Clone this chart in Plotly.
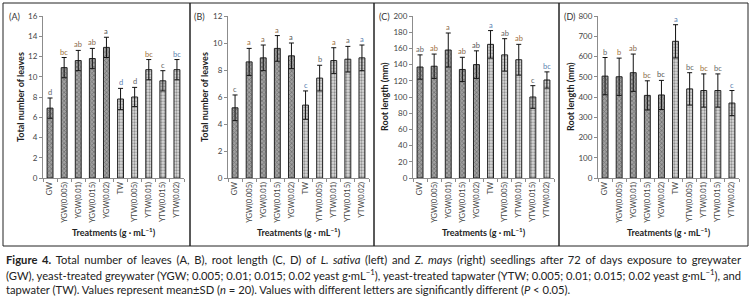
import plotly.graph_objects as go

W, H = 751, 302

categories = ["GW", "YGW(0.005)", "YGW(0.01)", "YGW(0.015)", "YGW(0.02)",
              "TW", "YTW(0.005)", "YTW(0.01)", "YTW(0.015)", "YTW(0.02)"]

leaves_sativa = [6.9, 10.9, 11.6, 11.8, 12.9, 7.8, 8.0, 10.7, 9.6, 10.7]
leaves_sativa_sd = [1.0, 1.0, 1.0, 1.0, 1.0, 1.05, 0.95, 1.0, 1.0, 1.0]
letters_a = ["d", "bc", "ab", "ab", "a", "d", "d", "bc", "c", "bc"]

leaves_mays = [5.2, 8.6, 8.9, 9.6, 9.05, 5.4, 7.4, 8.7, 8.8, 8.9]
leaves_mays_sd = [0.95, 1.0, 0.95, 0.95, 0.95, 1.05, 0.95, 0.95, 0.95, 0.95]
letters_b = ["c", "a", "a", "a", "a", "c", "b", "a", "a", "a"]

root_sativa = [137, 138, 158, 134, 140, 165, 152, 146, 100, 121]
root_sativa_sd = [15, 15, 21, 15, 17, 17, 20, 19, 14, 10]
letters_c = ["ab", "ab", "a", "ab", "ab", "a", "ab", "ab", "c", "bc"]

root_mays = [503, 500, 520, 408, 410, 675, 440, 432, 432, 370]
root_mays_sd = [92, 92, 92, 72, 72, 82, 80, 82, 82, 62]
letters_d = ["b", "b", "ab", "bc", "bc", "a", "bc", "bc", "bc", "c"]

letter_colors = ["#666666", "#a0703a", "#8a6a4a", "#8a6a4a", "#555555",
                 "#5a7fb0", "#666666", "#a0703a", "#666666", "#5a7fb0"]

panels = [
    dict(lab="(A)", vals=leaves_sativa, sd=leaves_sativa_sd, let=letters_a,
         rng=[0, 16], dt=2, ytitle="Total number of leaves", x0=43, tx=22),
    dict(lab="(B)", vals=leaves_mays, sd=leaves_mays_sd, let=letters_b,
         rng=[0, 12], dt=2, ytitle="Total number of leaves", x0=228, tx=23),
    dict(lab="(C)", vals=root_sativa, sd=root_sativa_sd, let=letters_c,
         rng=[0, 200], dt=20, ytitle="Root length (mm)", x0=413, tx=28),
    dict(lab="(D)", vals=root_mays, sd=root_mays_sd, let=letters_d,
         rng=[0, 800], dt=100, ytitle="Root length (mm)", x0=598, tx=27),
]

PW = 141
ytop, ybot = 16, 178
ydom = [1 - ybot / H, 1 - ytop / H]

dark = ["#a0a0a0"] * 5 + ["#dcdcdc"] * 5
fg = ["#3a3a3a"] * 5 + ["#a8a8a8"] * 5
shapes_p = ["x"] * 5 + ["."] * 5

fig = go.Figure()
annotations = []
shapes = []
FONT = "Lato"

for i, p in enumerate(panels):
    n = "" if i == 0 else str(i + 1)
    xa, ya = "x" + n, "y" + n
    fig.add_trace(go.Bar(
        x=categories, y=p["vals"], xaxis=xa, yaxis=ya,
        marker=dict(color=dark, line=dict(color="#222222", width=1),
                    pattern=dict(shape=shapes_p, fgcolor=fg, fillmode="overlay",
                                 size=3, solidity=0.45)),
        error_y=dict(type="data", array=p["sd"], symmetric=True, visible=True,
                     color="#111111", thickness=1, width=2.5),
        width=0.42, showlegend=False, hoverinfo="skip",
    ))
    dom = [p["x0"] / W, (p["x0"] + PW) / W]
    fig.layout["xaxis" + n] = dict(
        domain=dom, anchor=ya, type="category", showline=True, linecolor="#8c8c8c",
        ticks="outside", tickson="boundaries", ticklen=3, tickcolor="#8c8c8c",
        tickangle=-90, tickfont=dict(size=7.5, color="#444", family=FONT),
        showgrid=False, fixedrange=True, automargin=False)
    fig.layout["yaxis" + n] = dict(
        domain=ydom, anchor=xa, range=p["rng"], dtick=p["dt"], showline=True,
        linecolor="#8c8c8c", ticks="outside", ticklen=3, tickcolor="#8c8c8c",
        tickfont=dict(size=8, color="#444", family=FONT), showgrid=False,
        zeroline=False, fixedrange=True, automargin=False)
    for c, v, s, l, col in zip(categories, p["vals"], p["sd"], p["let"], letter_colors):
        annotations.append(dict(x=c, y=v + s, xref=xa, yref=ya, text=l,
                                showarrow=False, xanchor="center", yanchor="bottom",
                                yshift=-1, font=dict(size=7.5, color=col, family=FONT)))
    annotations.append(dict(x=(p["x0"] - 36) / W, y=1 - 16 / H, xref="paper", yref="paper",
                            text=p["lab"], showarrow=False, xanchor="left", yanchor="middle",
                            font=dict(size=9, color="#333", family=FONT)))
    annotations.append(dict(x=(p["x0"] - p["tx"]) / W, y=1 - 97 / H, xref="paper",
                            yref="paper", text="<b>" + p["ytitle"] + "</b>", textangle=-90,
                            xanchor="center", yanchor="middle", showarrow=False,
                            font=dict(size=9, color="#222", family=FONT)))
    annotations.append(dict(x=(p["x0"] + PW / 2) / W, y=1 - 232 / H, xref="paper",
                            yref="paper", text="<b>Treatments (g · mL<sup>−1</sup>)</b>",
                            xanchor="center", yanchor="middle", showarrow=False,
                            font=dict(size=9, color="#222", family=FONT)))

bx = [3, 190, 374, 559, 748]
for a, b in zip(bx[:-1], bx[1:]):
    shapes.append(dict(type="rect", xref="paper", yref="paper", x0=a / W, x1=b / W,
                       y0=1 - 246 / H, y1=1 - 3 / H, line=dict(color="#222", width=1)))

caption = [
    "<b>Figure 4.</b> Total number of leaves (A, B), root length (C, D) of <i>L. sativa</i> (left) and <i>Z. mays</i> (right) seedlings after 72 of days exposure to greywater",
    "(GW), yeast-treated greywater (YGW; 0.005; 0.01; 0.015; 0.02 yeast g·mL<sup>−1</sup>), yeast-treated tapwater (YTW; 0.005; 0.01; 0.015; 0.02 yeast g·mL<sup>−1</sup>), and",
    "tapwater (TW). Values represent mean±SD (<i>n</i> = 20). Values with different letters are significantly different (<i>P</i> < 0.05).",
]
justify = [True, False, False]
for k, t in enumerate(caption):
    if justify[k]:
        t = t.replace(" ", " \u2006")
    annotations.append(dict(x=4 / W, y=1 - (259 + 15 * k) / H, xref="paper", yref="paper",
                            text=t, showarrow=False, xanchor="left", yanchor="middle",
                            font=dict(size=11.2, color="#222", family=FONT)))

fig.update_layout(width=W, height=H,
                  margin=dict(l=0, r=0, t=0, b=0, pad=0, autoexpand=False),
                  paper_bgcolor="white", plot_bgcolor="white",
                  annotations=annotations, shapes=shapes, bargap=0.55)

fig.write_html("out.html", config={"displayModeBar": False},
               post_script="document.body.style.margin='0px';document.body.style.padding='0px';")
